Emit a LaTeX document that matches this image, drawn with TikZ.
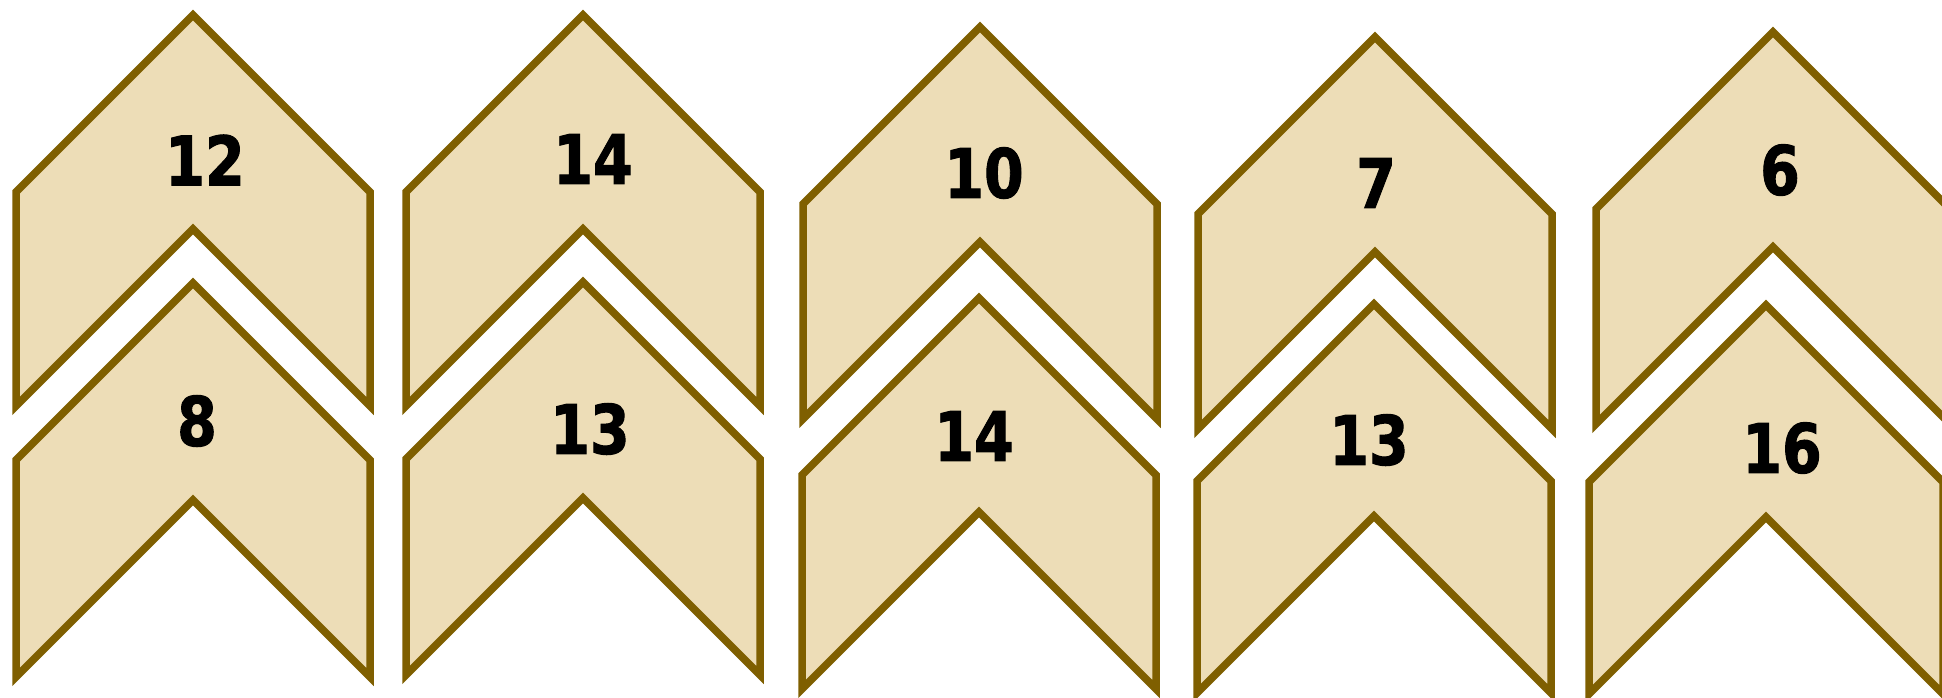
\documentclass[tikz,border=0pt]{standalone}
\usepackage{fontspec}
\setmainfont{DejaVu Sans}
\newfontfamily\numfont[FakeBold=1.6]{DejaVu Sans Bold}
\definecolor{rim}{RGB}{127,95,0}
\definecolor{parch}{RGB}{237,221,183}
\newcommand\chevshape[3]{%
  \draw[chevron] (#1,#2) -- ++(177,177) -- ++(0,#3) -- ++(-177,-177)
    -- ++(-177,177) -- ++(0,-#3) -- cycle;}
\begin{document}
\begin{tikzpicture}[x=1pt,y=-1pt,
  chevron/.style={draw=rim,fill=parch,line width=7.5pt,line join=miter},
  num/.style={inner sep=0pt,font=\numfont\fontsize{68}{68}\selectfont,text=black}]
\useasboundingbox (0,0) rectangle (1942,698);
\begin{scope}
\clip (0,0) rectangle (1942,698);
% top row
\chevshape{193}{15}{214}
\chevshape{583}{15}{214}
\chevshape{980}{27}{215}
\chevshape{1375}{37}{215}
\chevshape{1773}{32}{215}
% bottom row
\chevshape{193}{283}{217}
\chevshape{583}{282}{216}
\chevshape{979}{298}{214}
\chevshape{1374}{304}{212}
\chevshape{1766}{305}{212}
\end{scope}
% labels
\node[num] (n1) at (205,160) {\scalebox{0.84}[1]{12}};
\node[num] (n2) at (593,159) {\scalebox{0.84}[1]{14}};
\node[num] (n3) at (984,173) {\scalebox{0.84}[1]{10}};
\node[num] (n4) at (1376,183) {\scalebox{0.84}[1]{7}};
\node[num] (n5) at (1780,170) {\scalebox{0.84}[1]{6}};
\node[num] (m1) at (197,421) {\scalebox{0.84}[1]{8}};
\node[num] (m2) at (590,429) {\scalebox{0.84}[1]{13}};
\node[num] (m3) at (974,436) {\scalebox{0.84}[1]{14}};
\node[num] (m4) at (1369,440) {\scalebox{0.84}[1]{13}};
\node[num] (m5) at (1782,448) {\scalebox{0.84}[1]{16}};
\end{tikzpicture}
\end{document}
